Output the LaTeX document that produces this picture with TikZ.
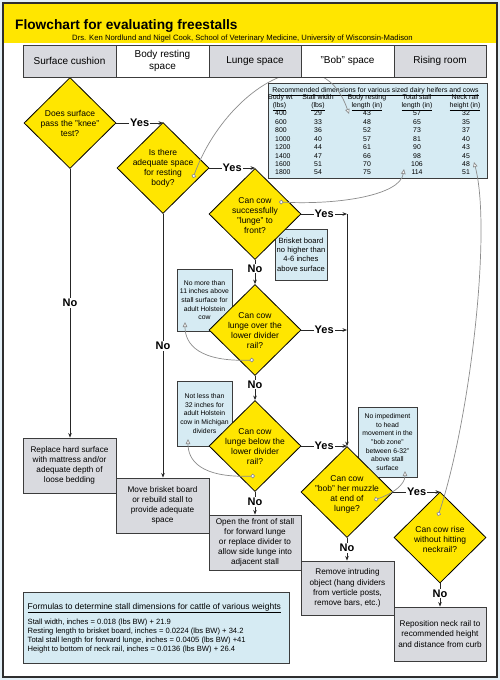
\documentclass[tikz,border=0pt]{standalone}
\usepackage{fontspec}
\setmainfont{Liberation Sans}
\usetikzlibrary{shapes.geometric,arrows.meta}
\definecolor{ylw}{HTML}{FFE600}
\definecolor{bgblue}{HTML}{E3F0F7}
\definecolor{gbox}{HTML}{D9DADF}
\definecolor{lblue}{HTML}{D6EBF3}
\definecolor{frm}{HTML}{2E2E2E}
\definecolor{bln}{HTML}{3C3C3C}
\definecolor{anncol}{HTML}{8C8C8C}
\begin{document}
\begin{tikzpicture}[x=1pt,y=-1pt,
  dia/.style={diamond,draw=black,fill=ylw,line width=0.8pt,minimum width=92pt,minimum height=91pt,inner sep=0pt},
  dtext/.style={align=center,font=\fontsize{8.5}{10}\selectfont,inner sep=0pt},
  gbx/.style={rectangle,draw=bln,fill=gbox,line width=0.9pt,align=center,font=\fontsize{8.2}{10.1}\selectfont,inner sep=0pt},
  lbx/.style={rectangle,draw=bln,fill=lblue,line width=0.9pt,align=center,font=\fontsize{6.8}{8.6}\selectfont,inner sep=0pt},
  hcell/.style={rectangle,draw=bln,line width=0.9pt,align=center,font=\fontsize{10}{12.5}\selectfont,inner sep=0pt,minimum height=32pt},
  arr/.style={draw=black!85,line width=0.8pt,-{Stealth[length=4.5pt,width=3.6pt]}},
  yn/.style={font=\bfseries\fontsize{11}{11}\selectfont,fill=white,inner sep=1pt},
  ann/.style={draw=anncol,line width=0.7pt,{Circle[fill=white,length=4.5pt]}-{Triangle[fill=white,length=5pt,width=4.5pt]}},
  tnum/.style={font=\fontsize{6.9}{8}\selectfont,inner sep=0pt,anchor=base},
  ftxt/.style={font=\fontsize{7.6}{9}\selectfont,inner sep=0pt,anchor=base west}]
\useasboundingbox (0,0) rectangle (500,680);
\fill[bgblue] (0,0) rectangle (500,680);
\draw[frm,line width=1.2pt,fill=white] (3,3) rectangle (497,677);
\fill[ylw] (3.6,3.6) rectangle (496.4,43);
\node[anchor=base west,font=\bfseries\fontsize{13.7}{16}\selectfont,inner sep=0pt] (title) at (15,29.5) {Flowchart for evaluating freestalls};
\node[anchor=base,font=\fontsize{7.7}{9}\selectfont,inner sep=0pt] (sub) at (242.5,40.5) {Drs. Ken Nordlund and Nigel Cook, School of Veterinary Medicine, University of Wisconsin-Madison};

% light blue note boxes
\node[lbx,minimum width=52pt,minimum height=51pt,font=\fontsize{7.6}{9.2}\selectfont] (l1) at (301,254.5) {Brisket board\\no higher than\\4-6 inches\\above surface};
\node[lbx,minimum width=55pt,minimum height=62pt] (l2) at (204.5,300) {No more than\\11 inches above\\stall surface for\\adult Holstein\\cow};
\node[lbx,minimum width=55pt,minimum height=65pt] (l3) at (204.5,413.5) {Not less than\\32 inches for\\adult Holstein\\cow in Michigan\\dividers};
\node[lbx,minimum width=59pt,minimum height=70pt] (l4) at (387.5,442) {No impediment\\to head\\movement in the\\"bob zone"\\between 6-32"\\above stall\\surface};

% table
\node[lbx,minimum width=219pt,minimum height=95pt] (tbl) at (377.5,131) {};
\node[tnum] (tt) at (375.5,92) {\underline{Recommended dimensions for various sized dairy heifers and cows}};
\node[tnum] (th1) at (280.5,99) {Body wt};
\node[tnum] (th1b) at (279.5,107) {\underline{(lbs)}};
\node[tnum] (th2) at (318,99) {Stall width};
\node[tnum] (th2b) at (318,107) {\underline{(lbs)}};
\node[tnum] (th3) at (367,99) {Body resting};
\node[tnum] (th3b) at (367,107) {\underline{length (in)}};
\node[tnum] (th4) at (417,99) {Total stall};
\node[tnum] (th4b) at (417,107) {\underline{length (in)}};
\node[tnum] (th5) at (465,99) {Neck rail};
\node[tnum] (th5b) at (465,107) {\underline{height (in)}};
\foreach \w/\s/\b/\t/\n [count=\i] in {400/29/43/57/32,600/33/48/65/35,800/36/52/73/37,1000/40/57/81/40,1200/44/61/90/43,1400/47/66/98/45,1600/51/70/106/48,1800/54/75/114/51}{
  \node[tnum,anchor=base west] (rw\i) at (275,{115.8+8.45*(\i-1)}) {\w};
  \node[tnum] (rs\i) at (318,{115.8+8.45*(\i-1)}) {\s};
  \node[tnum] (rb\i) at (367,{115.8+8.45*(\i-1)}) {\b};
  \node[tnum] (rt\i) at (417,{115.8+8.45*(\i-1)}) {\t};
  \node[tnum] (rn\i) at (466,{115.8+8.45*(\i-1)}) {\n};
}

% formulas
\node[lbx,minimum width=266pt,minimum height=71pt] (fb) at (156,627.5) {};
\node[ftxt,font=\fontsize{8.5}{10}\selectfont] (f0) at (27.5,609) {\underline{Formulas to determine stall dimensions for cattle of various weights}};
\node[ftxt] (f1) at (27.5,624) {Stall width, inches = 0.018 (lbs BW) + 21.9};
\node[ftxt] (f2) at (27.5,633) {Resting length to brisket board, inches = 0.0224 (lbs BW) + 34.2};
\node[ftxt] (f3) at (27.5,642) {Total stall length for forward lunge, inches = 0.0405 (lbs BW) +41};
\node[ftxt] (f4) at (27.5,651) {Height to bottom of neck rail, inches = 0.0136 (lbs BW) + 26.4};

% gray action boxes
\node[gbx,minimum width=93pt,minimum height=55pt] (b1) at (69.5,465.5) {Replace hard surface\\with mattress and/or\\adequate depth of\\loose bedding};
\node[gbx,minimum width=93pt,minimum height=55pt] (b2) at (162.5,505.5) {Move brisket board\\or rebuild stall to\\provide adequate\\space};
\node[gbx,minimum width=92pt,minimum height=55pt] (b3) at (255,542.5) {Open the front of stall\\for forward lunge\\or replace divider to\\allow side lunge into\\adjacent stall};
\node[gbx,minimum width=93pt,minimum height=54pt] (b4) at (347.5,588) {Remove intruding\\object (hang dividers\\from verticle posts,\\remove bars, etc.)};
\node[gbx,minimum width=92pt,minimum height=54pt] (b5) at (440,634) {Reposition neck rail to\\recommended height\\and distance from curb};

% diamonds
\node[dia] (d1) at (70,123) {};
\node[dtext] (d1t) at (d1) {Does surface\\pass the "knee"\\test?};
\node[dia] (d2) at (163,168) {};
\node[dtext] (d2t) at (d2) {Is there\\adequate space\\for resting\\body?};
\node[dia] (d3) at (255,214) {};
\node[dtext] (d3t) at (255,215.5) {Can cow\\successfully\\"lunge" to\\front?};
\node[dia] (d4) at (255,330) {};
\node[dtext] (d4t) at (255,331) {Can cow\\lunge over the\\lower divider\\rail?};
\node[dia] (d5) at (255,446) {};
\node[dtext] (d5t) at (255,447) {Can cow\\lunge below the\\lower divider\\rail?};
\node[dia] (d6) at (347,492) {};
\node[dtext] (d6t) at (347,494) {Can cow\\"bob" her muzzle\\at end of\\lunge?};
\node[dia] (d7) at (440,537.5) {};
\node[dtext] (d7t) at (440,539) {Can cow rise\\without hitting\\neckrail?};

% main connectors
\draw[arr] (d1.east) -- node[yn]{Yes} (d1.east -| d2.north);
\draw[arr] (d2.east) -- node[yn]{Yes} (d2.east -| d3.north);
\coordinate (j1) at (d3.east -| d6.north);
\draw[arr] (d3.east) -- node[yn]{Yes} (j1);
\draw[arr] (j1) -- (d6.north);
\draw[arr] (d4.east) -- node[yn]{Yes} (d4.east -| d6.north);
\draw[arr] (d5.east) -- node[yn]{Yes} (d5.east -| d6.north);
\draw[arr] (d6.east) -- node[yn]{Yes} (d6.east -| d7.north);
\draw[arr] (d1.south) -- node[yn]{No} (d1.south |- b1.north);
\draw[arr] (d2.south) -- node[yn]{No} (d2.south |- b2.north);
\draw[arr] (d3.south) -- node[yn,pos=0.36]{No} (d4.north);
\draw[arr] (d4.south) -- node[yn,pos=0.36]{No} (d5.north);
\draw[arr] (d5.south) -- node[yn,pos=0.45]{No} (d5.south |- b3.north);
\draw[arr] (d6.south) -- node[yn,pos=0.45]{No} (d6.south |- b4.north);
\draw[arr] (d7.south) -- node[yn,pos=0.43]{No} (d7.south |- b5.north);

% annotation connectors
\coordinate (c2) at (193,178); \coordinate (t2) at (349,114);
\coordinate (c3) at (279,202); \coordinate (t3) at (404,169);
\coordinate (c4) at (254,360); \coordinate (t4) at (185,322);
\coordinate (c5) at (255,476); \coordinate (t5) at (188,439);
\coordinate (c6) at (374,500); \coordinate (t6) at (405,471);
\coordinate (c7) at (438,516); \coordinate (t7) at (474,162);
\draw[ann] (c2) .. controls (225,90) and (320,30) .. (t2);
\draw[ann] (c3) .. controls (340,205) and (400,195) .. (t3);
\draw[ann] (c4) .. controls (200,362) and (185,345) .. (t4);
\draw[ann] (c5) .. controls (200,478) and (188,460) .. (t5);
\draw[ann] (c6) .. controls (392,494) and (405,485) .. (t6);
\draw[ann] (c7) .. controls (470,420) and (492,230) .. (t7);

% header
\node[hcell,fill=gbox,minimum width=93pt] (h1) at (69.5,61) {Surface cushion};
\node[hcell,fill=white,minimum width=93pt] (h2) at (162.5,61) {Body resting\\space};
\node[hcell,fill=gbox,minimum width=92pt] (h3) at (255,61) {Lunge space};
\node[hcell,fill=white,minimum width=93pt] (h4) at (347.5,61) {"Bob" space};
\node[hcell,fill=gbox,minimum width=92pt] (h5) at (440,61) {Rising room};
\end{tikzpicture}
\end{document}
